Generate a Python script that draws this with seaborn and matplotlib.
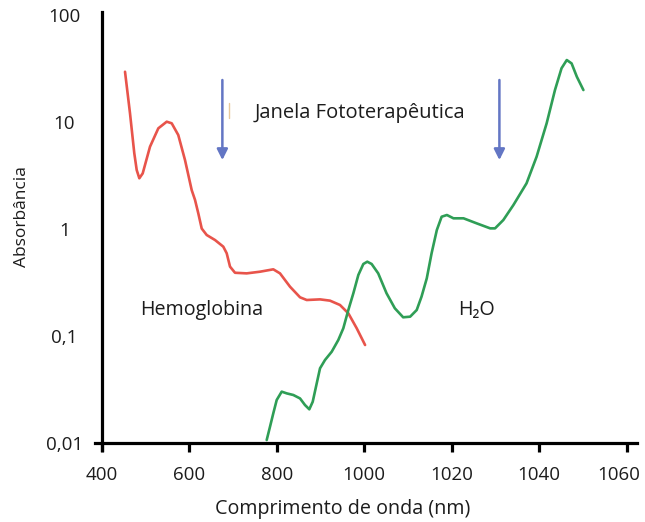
import numpy as np
import pandas as pd
import matplotlib
matplotlib.use("Agg")
import matplotlib.pyplot as plt
import seaborn as sns
from matplotlib.ticker import FixedLocator, NullLocator
from matplotlib.transforms import ScaledTranslation

# ---------------- data ----------------
tick_nm = [400, 600, 800, 1000, 1020, 1040, 1060]
tick_labels_x = ["400", "600", "800", "1000", "1020", "1040", "1060"]
y_ticks = [0.01, 0.1, 1, 10, 100]
y_tick_labels = ["0,01", "0,1", "1", "10", "100"]

hb_nm = [453.3, 464.7, 474.5, 480.0, 486.0, 493.7, 510.4, 529.4, 548.6, 560.0,
         575.0, 590.4, 605.7, 613.3, 620.8, 628.6, 640.0, 659.0, 677.9, 685.7,
         693.3, 704.7, 731.4, 761.8, 792.2, 807.5, 830.4, 853.3, 868.6, 899.0,
         921.8, 944.6, 963.7, 982.9, 1000.2]
hb_abs = [29.5, 12.05, 5.10, 3.56, 2.98, 3.31, 5.88, 8.73, 10.07, 9.73,
          7.56, 4.41, 2.31, 1.87, 1.40, 1.01, 0.879, 0.789, 0.684, 0.593,
          0.445, 0.390, 0.385, 0.399, 0.420, 0.385, 0.289, 0.230, 0.217, 0.220,
          0.214, 0.195, 0.163, 0.118, 0.0824]

h2o_nm = [777.1, 784.7, 792.2, 800.0, 811.4, 822.9, 838.0, 853.3, 864.6, 874.5,
          882.3, 889.8, 899.0, 910.4, 925.7, 940.8, 952.2, 963.7, 975.2, 986.6,
          998.0, 1000.7, 1001.7, 1003.2, 1005.1, 1007.0, 1008.9, 1010.5, 1012.0, 1013.1,
          1014.3, 1015.4, 1016.6, 1017.7, 1018.9, 1020.4, 1022.7, 1025.7, 1028.8, 1029.9,
          1031.8, 1034.1, 1037.1, 1039.4, 1041.7, 1043.6, 1045.1, 1046.3, 1047.4, 1048.6,
          1050.1]
h2o_abs = [0.01066, 0.01421, 0.01894, 0.02524, 0.0302, 0.0291, 0.0281, 0.0261, 0.02265, 0.02065,
           0.0243, 0.0336, 0.0499, 0.0597, 0.0713, 0.0918, 0.118, 0.175, 0.251, 0.372,
           0.471, 0.495, 0.471, 0.385, 0.251, 0.1816, 0.1496, 0.1516, 0.175, 0.2332,
           0.346, 0.593, 0.979, 1.303, 1.352, 1.259, 1.259, 1.13, 1.014, 1.014,
           1.214, 1.676, 2.673, 4.74, 9.73, 19.9, 31.8, 37.96, 35.3, 26.5,
           19.9]

hb_df = pd.DataFrame({"nm": hb_nm, "abs": hb_abs})
h2o_df = pd.DataFrame({"nm": h2o_nm, "abs": h2o_abs})

# ---------------- style ----------------
sns.set_theme(style="white")
plt.rcParams["font.family"] = ["Open Sans", "DejaVu Sans"]

RED = "#e8544b"
GREEN = "#2f9e56"
BLUE = "#6376c4"
BLUE_HEAD = "#3347a3"
TXT = "#1c1c1c"


def fwd(x):
    x = np.asarray(x, dtype=float)
    return np.where(x <= 1000, (x - 400) / 200.0, 3 + (x - 1000) / 20.0)


def inv(p):
    p = np.asarray(p, dtype=float)
    return np.where(p <= 3, 400 + 200 * p, 1000 + 20 * (p - 3))


fig = plt.figure(figsize=(6.45, 5.22), dpi=100)
ax = fig.add_axes([0.1473, 0.1379, 0.8403, 0.8391])

sns.lineplot(data=hb_df, x="nm", y="abs", sort=False, estimator=None,
             color=RED, linewidth=1.9, ax=ax)
sns.lineplot(data=h2o_df, x="nm", y="abs", sort=False, estimator=None,
             color=GREEN, linewidth=1.9, ax=ax)
for ln in ax.get_lines():
    ln.set_solid_joinstyle("round")
    ln.set_solid_capstyle("round")

ax.set_xscale("function", functions=(fwd, inv))
ax.set_yscale("log")
ax.set_xlim(384.7, 1062.35)
ax.set_ylim(0.0086, 106.7)

ax.xaxis.set_major_locator(FixedLocator(tick_nm))
ax.xaxis.set_minor_locator(NullLocator())
ax.set_xticklabels(tick_labels_x)
ax.yaxis.set_major_locator(FixedLocator(y_ticks))
ax.yaxis.set_minor_locator(NullLocator())
ax.set_yticklabels(y_tick_labels)

for s in ["top", "right"]:
    ax.spines[s].set_visible(False)
ax.spines["left"].set_position(("data", 400))
ax.spines["bottom"].set_position(("data", 0.01))
for s in ["left", "bottom"]:
    ax.spines[s].set_color("black")
    ax.spines[s].set_linewidth(2.3)

ax.tick_params(axis="x", direction="out", length=6.5, width=2.3, color="black",
               labelsize=13.5, pad=10, labelcolor=TXT, bottom=True)
ax.tick_params(axis="y", length=0, labelsize=13.5, pad=27, labelcolor=TXT, left=True)
for t in ax.get_yticklabels():
    t.set_horizontalalignment("center")
last = ax.get_xticklabels()[-1]
last.set_transform(last.get_transform() + ScaledTranslation(-8 / 100, 0, fig.dpi_scale_trans))

ax.set_xlabel("Comprimento de onda (nm)", fontsize=14.2, color=TXT)
ax.set_ylabel("Absorbância", fontsize=12.5, color=TXT)
ax.xaxis.set_label_coords(0.4566, -0.1347)
ax.xaxis.label.set_va("center")
ax.yaxis.set_label_coords(-0.1347, 0.532)
ax.yaxis.label.set_va("center")

# annotations
ax.text(750, 12.1, "Janela Fototerapêutica", fontsize=14.5, ha="left", va="center",
        color=TXT)
ax.text(487.5, 0.175, "Hemoglobina", fontsize=14.2, ha="left", va="center",
        color=TXT)
ax.text(1021.4, 0.175, "H₂O", fontsize=14.2, ha="left", va="center",
        color=TXT, family=["Open Sans", "DejaVu Sans"])

for xa in [675.8, 1030.9]:
    ax.annotate("", xy=(xa, 4.41), xytext=(xa, 24.7),
                arrowprops=dict(arrowstyle="-|>", color=BLUE, lw=1.8,
                                mutation_scale=16, shrinkA=0, shrinkB=0,
                                facecolor=BLUE_HEAD))
ax.plot([691.6, 691.6], [10.9, 15.1], color="#e8c99a", linewidth=1.0)

fig.savefig("out.png", dpi=100)
